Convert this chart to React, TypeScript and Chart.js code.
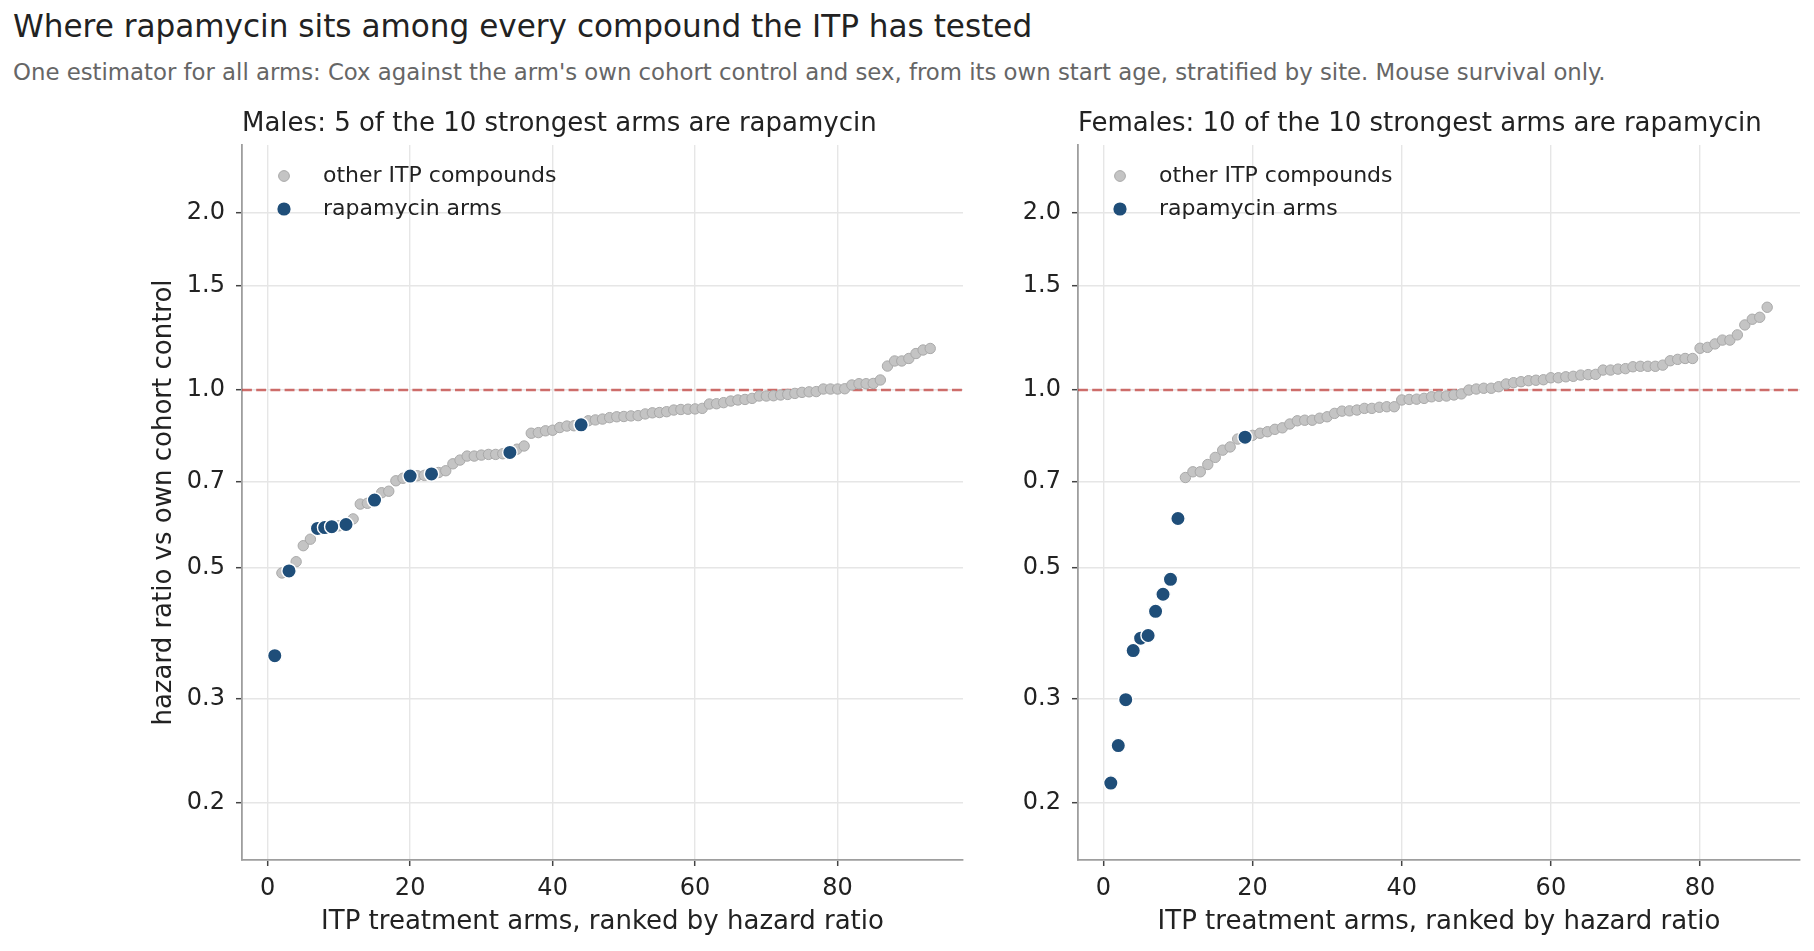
import React, { useEffect, useRef } from 'react';
import { Chart, registerables } from 'chart.js';

Chart.register(...registerables);

// ---------------- data ----------------
const MALE_HR = [
  0.355, 0.49, 0.494, 0.512, 0.545, 0.559, 0.583, 0.585, 0.587, 0.589,
  0.592, 0.605, 0.641, 0.643, 0.651, 0.67, 0.674, 0.702, 0.709, 0.715,
  0.716, 0.717, 0.721, 0.725, 0.73, 0.75, 0.761, 0.773, 0.773, 0.776,
  0.778, 0.778, 0.78, 0.784, 0.794, 0.804, 0.845, 0.847, 0.853, 0.855,
  0.864, 0.869, 0.87, 0.873, 0.887, 0.89, 0.893, 0.898, 0.901, 0.902,
  0.904, 0.905, 0.911, 0.915, 0.916, 0.919, 0.925, 0.927, 0.928, 0.929,
  0.931, 0.947, 0.948, 0.952, 0.958, 0.962, 0.964, 0.968, 0.977, 0.977,
  0.978, 0.981, 0.983, 0.987, 0.991, 0.993, 0.994, 1.004, 1.004, 1.004,
  1.005, 1.02, 1.025, 1.025, 1.026, 1.04, 1.098, 1.12, 1.12, 1.131,
  1.153, 1.169, 1.176,
];
const MALE_RAPA_RANKS = [1, 3, 7, 8, 9, 11, 15, 20, 23, 34, 44];

const FEMALE_HR = [
  0.216, 0.25, 0.299, 0.362, 0.38, 0.384, 0.422, 0.451, 0.478, 0.606,
  0.711, 0.727, 0.727, 0.748, 0.769, 0.791, 0.801, 0.826, 0.832, 0.838,
  0.845, 0.85, 0.858, 0.863, 0.876, 0.887, 0.889, 0.889, 0.896, 0.901,
  0.913, 0.921, 0.922, 0.925, 0.931, 0.931, 0.935, 0.937, 0.937, 0.962,
  0.964, 0.965, 0.968, 0.974, 0.976, 0.977, 0.981, 0.985, 1.0, 1.004,
  1.007, 1.007, 1.013, 1.024, 1.029, 1.033, 1.037, 1.039, 1.041, 1.049,
  1.049, 1.053, 1.055, 1.06, 1.062, 1.063, 1.081, 1.081, 1.085, 1.087,
  1.095, 1.097, 1.097, 1.097, 1.102, 1.121, 1.127, 1.131, 1.131, 1.177,
  1.181, 1.197, 1.215, 1.215, 1.24, 1.289, 1.318, 1.328, 1.381,
];
const FEMALE_RAPA_RANKS = [1, 2, 3, 4, 5, 6, 7, 8, 9, 10, 19];

const Y_TICKS = [0.2, 0.3, 0.5, 0.7, 1.0, 1.5, 2.0];
const X_TICKS = [0, 20, 40, 60, 80];
const Y_MIN = 0.16;
const Y_MAX = 2.6;
const REF_HR = 1.0;

const SUPTITLE = 'Where rapamycin sits among every compound the ITP has tested';
const SUBTITLE =
  "One estimator for all arms: Cox against the arm's own cohort control and sex, from its own start age, stratified by site. Mouse survival only.";
const MALE_TITLE = 'Males: 5 of the 10 strongest arms are rapamycin';
const FEMALE_TITLE = 'Females: 10 of the 10 strongest arms are rapamycin';
const X_LABEL = 'ITP treatment arms, ranked by hazard ratio';
const Y_LABEL = 'hazard ratio vs own cohort control';
const LEGEND_LABELS = ['other ITP compounds', 'rapamycin arms'];

// ---------------- styles ----------------
const FONT = 'DejaVu Sans';
const TEXT = '#222222';
const GRAY_FILL = '#c4c4c4';
const GRAY_EDGE = '#a9a9a9';
const BLUE = '#1f4e79';
const GRID = '#e6e6e6';
const SPINE = '#9e9e9e';
const REF_COLOR = 'rgba(192,60,55,0.72)';

Chart.defaults.font.family = FONT;

function splitPoints(hr: number[], rapa: number[]) {
  const other: { x: number; y: number }[] = [];
  const rap: { x: number; y: number }[] = [];
  hr.forEach((v, i) => {
    const p = { x: i + 1, y: v };
    if (rapa.includes(i + 1)) rap.push(p);
    else other.push(p);
  });
  return { other, rap };
}

const refLinePlugin = {
  id: 'refLine',
  beforeDatasetsDraw(chart: any) {
    const { ctx, chartArea, scales } = chart;
    const y = scales.y.getPixelForValue(REF_HR);
    ctx.save();
    ctx.strokeStyle = REF_COLOR;
    ctx.lineWidth = 2.6;
    ctx.setLineDash([9.9, 4.3]);
    ctx.beginPath();
    ctx.moveTo(chartArea.left, y);
    ctx.lineTo(chartArea.right, y);
    ctx.stroke();
    ctx.restore();
  },
};

const panelDecorPlugin = {
  id: 'panelDecor',
  afterDraw(chart: any, _args: any, opts: any) {
    const { ctx, chartArea } = chart;
    ctx.save();
    // panel title
    ctx.font = `26px "${FONT}"`;
    ctx.fillStyle = TEXT;
    ctx.textAlign = 'left';
    ctx.textBaseline = 'alphabetic';
    ctx.fillText(opts.title, chartArea.left, chartArea.top - 14);
    // legend
    const mx = chartArea.left + 42;
    const tx = chartArea.left + 81;
    const rows = [chartArea.top + 31, chartArea.top + 64];
    ctx.font = `22px "${FONT}"`;
    ctx.textBaseline = 'middle';
    // gray
    ctx.beginPath();
    ctx.arc(mx, rows[0], 5.4, 0, Math.PI * 2);
    ctx.fillStyle = GRAY_FILL;
    ctx.fill();
    ctx.lineWidth = 1;
    ctx.strokeStyle = GRAY_EDGE;
    ctx.stroke();
    // blue
    ctx.beginPath();
    ctx.arc(mx, rows[1], 6.6, 0, Math.PI * 2);
    ctx.fillStyle = BLUE;
    ctx.fill();
    ctx.fillStyle = TEXT;
    ctx.fillText(LEGEND_LABELS[0], tx, rows[0]);
    ctx.fillText(LEGEND_LABELS[1], tx, rows[1]);
    ctx.restore();
  },
};

function makeConfig(
  hr: number[],
  rapa: number[],
  title: string,
  yAxisWidth: number,
  rightPad: number,
  showYTitle: boolean
) {
  const { other, rap } = splitPoints(hr, rapa);
  const n = hr.length;
  const margin = (n - 1) * 0.05;
  const tickFont = { family: FONT, size: 24 };
  const labelFont = { family: FONT, size: 26 };
  return {
    type: 'scatter' as const,
    data: {
      datasets: [
        {
          label: LEGEND_LABELS[0],
          data: other,
          backgroundColor: GRAY_FILL,
          borderColor: GRAY_EDGE,
          borderWidth: 1,
          pointRadius: 5.2,
          pointHoverRadius: 5.2,
          order: 2,
        },
        {
          label: LEGEND_LABELS[1],
          data: rap,
          backgroundColor: BLUE,
          borderColor: '#ffffff',
          borderWidth: 1.4,
          pointRadius: 7.2,
          pointHoverRadius: 7.2,
          order: 1,
        },
      ],
    },
    options: {
      responsive: false,
      animation: false as const,
      events: [],
      layout: { padding: { top: 55, right: rightPad, left: 0, bottom: 0 } },
      plugins: {
        legend: { display: false },
        tooltip: { enabled: false },
        title: { display: false },
        panelDecor: { title },
      },
      scales: {
        x: {
          type: 'linear' as const,
          min: 1 - margin,
          max: n + margin,
          afterBuildTicks: (s: any) => {
            s.ticks = X_TICKS.map((v) => ({ value: v }));
          },
          afterFit: (s: any) => {
            s.height = 91;
          },
          grid: {
            color: GRID,
            lineWidth: 1.4,
            tickColor: '#444444',
            tickLength: 6,
            tickWidth: 1.5,
          },
          border: { color: SPINE, width: 1.8 },
          ticks: {
            font: tickFont,
            color: TEXT,
            padding: 8,
            maxRotation: 0,
            autoSkip: false,
            callback: (v: any) => String(v),
          },
          title: {
            display: true,
            text: X_LABEL,
            font: labelFont,
            color: TEXT,
            padding: { top: 0, bottom: 13 },
          },
        },
        y: {
          type: 'logarithmic' as const,
          min: Y_MIN,
          max: Y_MAX,
          afterBuildTicks: (s: any) => {
            s.ticks = Y_TICKS.map((v) => ({ value: v }));
          },
          afterFit: (s: any) => {
            s.width = yAxisWidth;
          },
          grid: {
            color: GRID,
            lineWidth: 1.4,
            tickColor: '#444444',
            tickLength: 6,
            tickWidth: 1.5,
          },
          border: { color: SPINE, width: 1.8 },
          ticks: {
            font: tickFont,
            color: TEXT,
            padding: 11,
            autoSkip: false,
            callback: (v: any) => Number(v).toFixed(1),
          },
          title: {
            display: showYTitle,
            text: Y_LABEL,
            font: labelFont,
            color: TEXT,
            padding: { top: 149, bottom: 0 },
          },
        },
      },
    },
    plugins: [refLinePlugin, panelDecorPlugin],
  };
}

function Panel(props: {
  hr: number[];
  rapa: number[];
  title: string;
  left: number;
  width: number;
  yAxisWidth: number;
  rightPad: number;
  showYTitle: boolean;
}) {
  const ref = useRef<HTMLCanvasElement | null>(null);
  useEffect(() => {
    if (!ref.current) return;
    const chart = new Chart(
      ref.current,
      makeConfig(props.hr, props.rapa, props.title, props.yAxisWidth, props.rightPad, props.showYTitle) as any
    );
    return () => chart.destroy();
  }, []);
  return (
    <canvas
      ref={ref}
      width={props.width}
      height={861}
      style={{ position: 'absolute', left: props.left, top: 90, width: props.width, height: 861 }}
    />
  );
}

export default function App() {
  return (
    <div
      style={{
        position: 'fixed',
        left: 0,
        top: 0,
        width: 1814,
        height: 951,
        background: '#ffffff',
        overflow: 'hidden',
        fontFamily: `"${FONT}", sans-serif`,
      }}
    >
      <div
        style={{
          position: 'absolute',
          left: 13,
          top: 10.7,
          fontSize: 31.1,
          lineHeight: '31px',
          color: TEXT,
          whiteSpace: 'nowrap',
        }}
      >
        {SUPTITLE}
      </div>
      <div
        style={{
          position: 'absolute',
          left: 13,
          top: 61,
          fontSize: 22.8,
          lineHeight: '22.5px',
          color: '#666666',
          whiteSpace: 'nowrap',
        }}
      >
        {SUBTITLE}
      </div>
      <Panel
        hr={MALE_HR}
        rapa={MALE_RAPA_RANKS}
        title={MALE_TITLE}
        left={0}
        width={975}
        yAxisWidth={242}
        rightPad={12}
        showYTitle={true}
      />
      <Panel
        hr={FEMALE_HR}
        rapa={FEMALE_RAPA_RANKS}
        title={FEMALE_TITLE}
        left={975}
        width={839}
        yAxisWidth={103}
        rightPad={14}
        showYTitle={false}
      />
    </div>
  );
}
